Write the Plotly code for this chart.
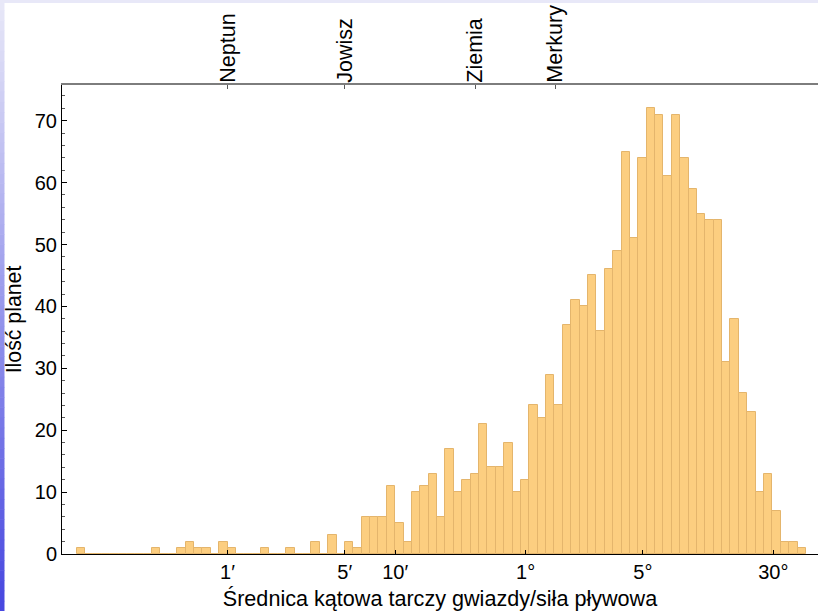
import numpy as np
import plotly.graph_objects as go

# Histogram of stellar disc angular diameter (tidal-force equivalent), log10(arcmin) bins
log_bin_start = -0.9      # left edge of first bin, log10(arcmin)
log_bin_width = 0.05      # 20 bins per decade
counts = [
    1, 0, 0, 0, 0, 0, 0, 0, 0, 1, 0, 0, 1, 2, 1, 1, 0, 2, 1, 0,
    0, 0, 1, 0, 0, 1, 0, 0, 2, 0, 3, 0, 2, 1, 6, 6, 6, 11, 5, 2,
    10, 11, 13, 6, 17, 10, 12, 13, 21, 14, 14, 18, 10, 12, 24, 22, 29, 24, 37, 41,
    40, 45, 36, 46, 49, 65, 51, 64, 72, 71, 61, 71, 64, 59, 55, 54, 54, 31, 38, 26,
    23, 10, 13, 7, 2, 2, 1,
]

# bottom axis tick labels (values in arcmin)
tick_arcmin = [1, 5, 10, 60, 300, 1800]
tick_text = ["1′", "5′", "10′", "1°", "5°", "30°"]

# Solar-system reference planets on the top axis (arcmin)
planet_names = ["Neptun", "Jowisz", "Ziemia", "Merkury"]
planet_arcmin = [1.0, 5.0, 30.0, 90.0]

x_range = [-0.9875, 3.522]
y_range = [0, 75.77]

centers = [log_bin_start + log_bin_width * (i + 0.5) for i in range(len(counts))]

FONT = "Liberation Sans, Arial, sans-serif"
W, H = 818, 611
ML, MR, MT, MB = 62, 0, 85, 57

fig = go.Figure()
fig.add_trace(go.Bar(
    x=centers, y=counts, width=log_bin_width,
    marker=dict(color="rgb(252,206,128)", line=dict(color="rgb(228,181,108)", width=1)),
    showlegend=False, hoverinfo="x+y",
))
# carrier trace for the top axis
fig.add_trace(go.Scatter(
    x=list(np.log10(planet_arcmin)), y=[0] * len(planet_arcmin), xaxis="x2",
    mode="markers", marker=dict(opacity=0), showlegend=False, hoverinfo="skip",
))

# decorative gradient strip at the left edge and a band at the top
pw, ph = W - ML - MR, H - MT - MB
def px_to_paper_x(px):
    return (px - ML) / pw
def px_to_paper_y(py):
    return (H - MB - py) / ph

shapes = []
n_bands = 60
top_col = np.array([232, 232, 248])
bot_col = np.array([72, 72, 224])
for i in range(n_bands):
    t = i / (n_bands - 1)
    c = (top_col * (1 - t) + bot_col * t).astype(int)
    y0 = H * i / n_bands
    y1 = H * (i + 1) / n_bands + 0.5
    shapes.append(dict(
        type="rect", xref="paper", yref="paper", layer="below",
        x0=px_to_paper_x(0), x1=px_to_paper_x(4.5),
        y0=px_to_paper_y(y0), y1=px_to_paper_y(y1),
        fillcolor=f"rgb({c[0]},{c[1]},{c[2]})", line=dict(width=0),
    ))
shapes.append(dict(
    type="rect", xref="paper", yref="paper", layer="below",
    x0=px_to_paper_x(0), x1=px_to_paper_x(W),
    y0=px_to_paper_y(0), y1=px_to_paper_y(3),
    fillcolor="rgb(232,232,248)", line=dict(width=0),
))

fig.update_layout(
    width=W, height=H,
    margin=dict(l=ML, r=MR, t=MT, b=MB),
    paper_bgcolor="white", plot_bgcolor="white",
    bargap=0,
    font=dict(family=FONT, color="black", size=20),
    shapes=shapes,
    xaxis=dict(
        range=x_range, showgrid=False, zeroline=False,
        showline=True, linecolor="black", linewidth=1,
        tickmode="array", tickvals=list(np.log10(tick_arcmin)), ticktext=tick_text,
        ticks="inside", ticklen=4, tickcolor="black", tickwidth=1,
        tickfont=dict(size=20),
        title=dict(text="Średnica kątowa tarczy gwiazdy/siła pływowa",
                   font=dict(size=21.6), standoff=8),
    ),
    xaxis2=dict(
        overlaying="x", side="top", anchor="y",
        range=x_range, showgrid=False, zeroline=False,
        showline=True, linecolor="rgb(125,125,125)", linewidth=2,
        tickmode="array", tickvals=list(np.log10(planet_arcmin)), ticktext=planet_names,
        tickangle=-90, ticks="inside", ticklen=4, tickcolor="rgb(90,90,90)",
        tickfont=dict(size=21.5), ticklabelstandoff=-4,
    ),
    yaxis=dict(
        range=y_range, showgrid=False, zeroline=False,
        showline=True, linecolor="black", linewidth=1,
        dtick=10, tick0=0, ticks="inside", ticklen=5, tickcolor="black",
        tickfont=dict(size=20),
        minor=dict(dtick=2, tick0=0, ticks="inside", ticklen=3, tickcolor="rgb(90,90,90)"),
        title=dict(text="Ilość planet", font=dict(size=21.3), standoff=7),
    ),
)

fig.write_html("out.html")
